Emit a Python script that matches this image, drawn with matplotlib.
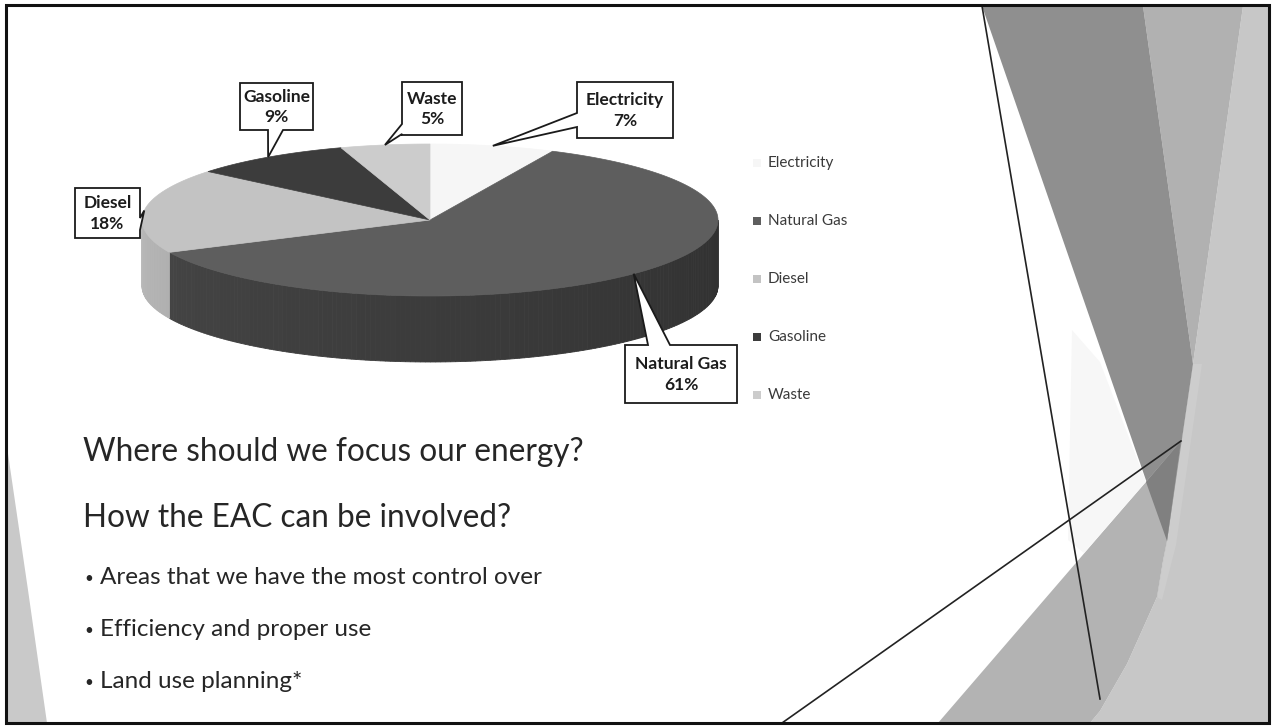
import matplotlib.pyplot as plt
from matplotlib.patches import Polygon
import numpy as np

W, H = 1272, 728

# energy use by source (percent)
sources = ["Electricity", "Natural Gas", "Diesel", "Gasoline", "Waste"]
shares = [7, 61, 18, 9, 5]
top_colors = ["#f6f6f6", "#5e5e5e", "#c3c3c3", "#3c3c3c", "#cccccc"]
side_colors = ["#e6e6e6", "#474747", "#b8b8b8", "#2e2e2e", "#bcbcbc"]

heading = ["Where should we focus our energy?", "How the EAC can be involved?"]
bullets = ["Areas that we have the most control over",
           "Efficiency and proper use",
           "Land use planning*"]

# callout boxes: (x0, y0, x1, y1), side the pointer leaves from, pointer base span
callouts = {
    "Electricity": ((577, 82, 673, 138), "left", (113, 127)),
    "Natural Gas": ((625, 345, 737, 403), "top", (648, 670)),
    "Diesel": ((75, 188, 140, 238), "right", (218, 230)),
    "Gasoline": ((240, 83, 313, 130), "bottom", (268, 283)),
    "Waste": ((402, 82, 462, 135), "left", (124, 134)),
}

BODY_FONT = "Lato"
LABEL_FONT = "Lato"

# pie geometry in pixel space
cx, cy, rx, ry, depth = 430, 220, 288, 76, 66


def rim(theta, drop=0.0):
    t = np.radians(theta)
    return cx + rx * np.sin(t), cy - ry * np.cos(t) + drop


def callout_poly(box, side, base, tip):
    x0, y0, x1, y1 = box
    a, b = base
    pts = [(x0, y0)]
    if side == "top":
        pts += [(a, y0), tip, (b, y0)]
    pts.append((x1, y0))
    if side == "right":
        pts += [(x1, a), tip, (x1, b)]
    pts.append((x1, y1))
    if side == "bottom":
        pts += [(b, y1), tip, (a, y1)]
    pts.append((x0, y1))
    if side == "left":
        pts += [(x0, b), tip, (x0, a)]
    return pts


fig = plt.figure(figsize=(W / 100, H / 100), dpi=100)
ax = fig.add_axes([0, 0, 1, 1])
ax.set_xlim(0, W)
ax.set_ylim(H, 0)
ax.axis("off")

# background facets on the right and the sliver on the left
facets = [
    ([(1243, 6), (1269, 6), (1269, 723), (1090, 723), (1100, 711), (1127, 664),
      (1157, 597), (1163, 561), (1167, 541), (1193, 364)], "#c7c7c7"),
    ([(1193, 364), (1202, 364), (1176, 545), (1162, 600), (1157, 597), (1167, 541)], "#cdcdcd"),
    ([(1143, 6), (1243, 6), (1193, 364)], "#b1b1b1"),
    ([(982, 6), (1143, 6), (1193, 364), (1167, 541)], "#8f8f8f"),
    ([(938, 723), (1181, 441), (1167, 541), (1163, 561), (1157, 597), (1127, 664),
      (1100, 711), (1090, 723)], "#b3b3b3"),
    ([(1146, 482), (1181, 441), (1167, 541)], "#808080"),
    ([(1072, 330), (1100, 362), (1146, 482), (1084, 553), (1068, 540)], "#f7f7f7"),
    ([(6, 440), (6, 723), (47, 723), (28, 590)], "#c9c9c9"),
]
for pts, col in facets:
    ax.add_patch(Polygon(pts, closed=True, facecolor=col, edgecolor="none", zorder=0))

ax.plot([982, 1100], [6, 699], color="#222222", lw=1.2, zorder=1)
ax.plot([782, 1181], [723, 441], color="#222222", lw=1.2, zorder=1)

# 3-D pie: slices clockwise from 12 o'clock
bounds = np.concatenate([[0], np.cumsum(shares)]) / sum(shares) * 360
mids = {}
for i, name in enumerate(sources):
    t1, t2 = bounds[i], bounds[i + 1]
    mids[name] = (t1 + t2) / 2
    # front wall, only the part facing the viewer, darker toward the right
    lo, hi = max(t1, 90), min(t2, 270)
    if lo < hi:
        steps = np.linspace(lo, hi, int(hi - lo) + 2)
        base = np.array([int(side_colors[i][k:k + 2], 16) for k in (1, 3, 5)]) / 255
        for ta, tb in zip(steps[:-1], steps[1:]):
            shade = 0.68 + 0.32 * ((ta + tb) / 2 - 90) / 180
            col = np.clip(base * shade, 0, 1)
            quad = [rim(ta), rim(tb), rim(tb, depth), rim(ta, depth)]
            ax.add_patch(Polygon(quad, closed=True, facecolor=col, edgecolor=col,
                                 lw=0.6, zorder=2))
for i, name in enumerate(sources):
    t1, t2 = bounds[i], bounds[i + 1]
    arc = [rim(t) for t in np.linspace(t1, t2, int(t2 - t1) * 2 + 2)]
    ax.add_patch(Polygon([(cx, cy)] + arc, closed=True, facecolor=top_colors[i],
                         edgecolor=top_colors[i], lw=0.5, zorder=3))

# data labels in callout boxes
for i, name in enumerate(sources):
    box, side, base = callouts[name]
    tip = rim(mids[name])
    ax.add_patch(Polygon(callout_poly(box, side, base, tip), closed=True,
                         facecolor="white", edgecolor="#1a1a1a", lw=1.3, zorder=4))
    x0, y0, x1, y1 = box
    xm, ym = (x0 + x1) / 2, (y0 + y1) / 2
    ax.text(xm, ym - 10, name, ha="center", va="center", fontsize=12.5,
            fontweight="bold", family=LABEL_FONT, color="#1c1c1c", zorder=5)
    ax.text(xm, ym + 11, f"{shares[i]}%", ha="center", va="center", fontsize=12.5,
            fontweight="bold", family=LABEL_FONT, color="#1c1c1c", zorder=5)

# legend
for i, name in enumerate(sources):
    ly = 163 + i * 58
    ax.add_patch(Polygon([(753, ly - 4), (761, ly - 4), (761, ly + 4), (753, ly + 4)],
                         closed=True, facecolor=top_colors[i], edgecolor="none", zorder=4))
    ax.text(768, ly, name, ha="left", va="center", fontsize=11,
            family=LABEL_FONT, color="#3a3a3a", zorder=5)

# slide text
for j, line in enumerate(heading):
    ax.text(83, 452 + j * 66, line, ha="left", va="center", fontsize=22.7,
            family=BODY_FONT, color="#262626", zorder=5)
for j, line in enumerate(bullets):
    yy = 578 + j * 52
    ax.text(84, yy + 1, "\u2022", ha="left", va="center", fontsize=11,
            family=BODY_FONT, color="#262626", zorder=5)
    ax.text(100, yy, line, ha="left", va="center", fontsize=17.5,
            family=BODY_FONT, color="#262626", zorder=5)

# slide frame
ax.add_patch(Polygon([(6, 5), (1269, 5), (1269, 723), (6, 723)], closed=True,
                     facecolor="none", edgecolor="#111111", lw=2.2, zorder=6))

fig.savefig("out.png", dpi=100)
